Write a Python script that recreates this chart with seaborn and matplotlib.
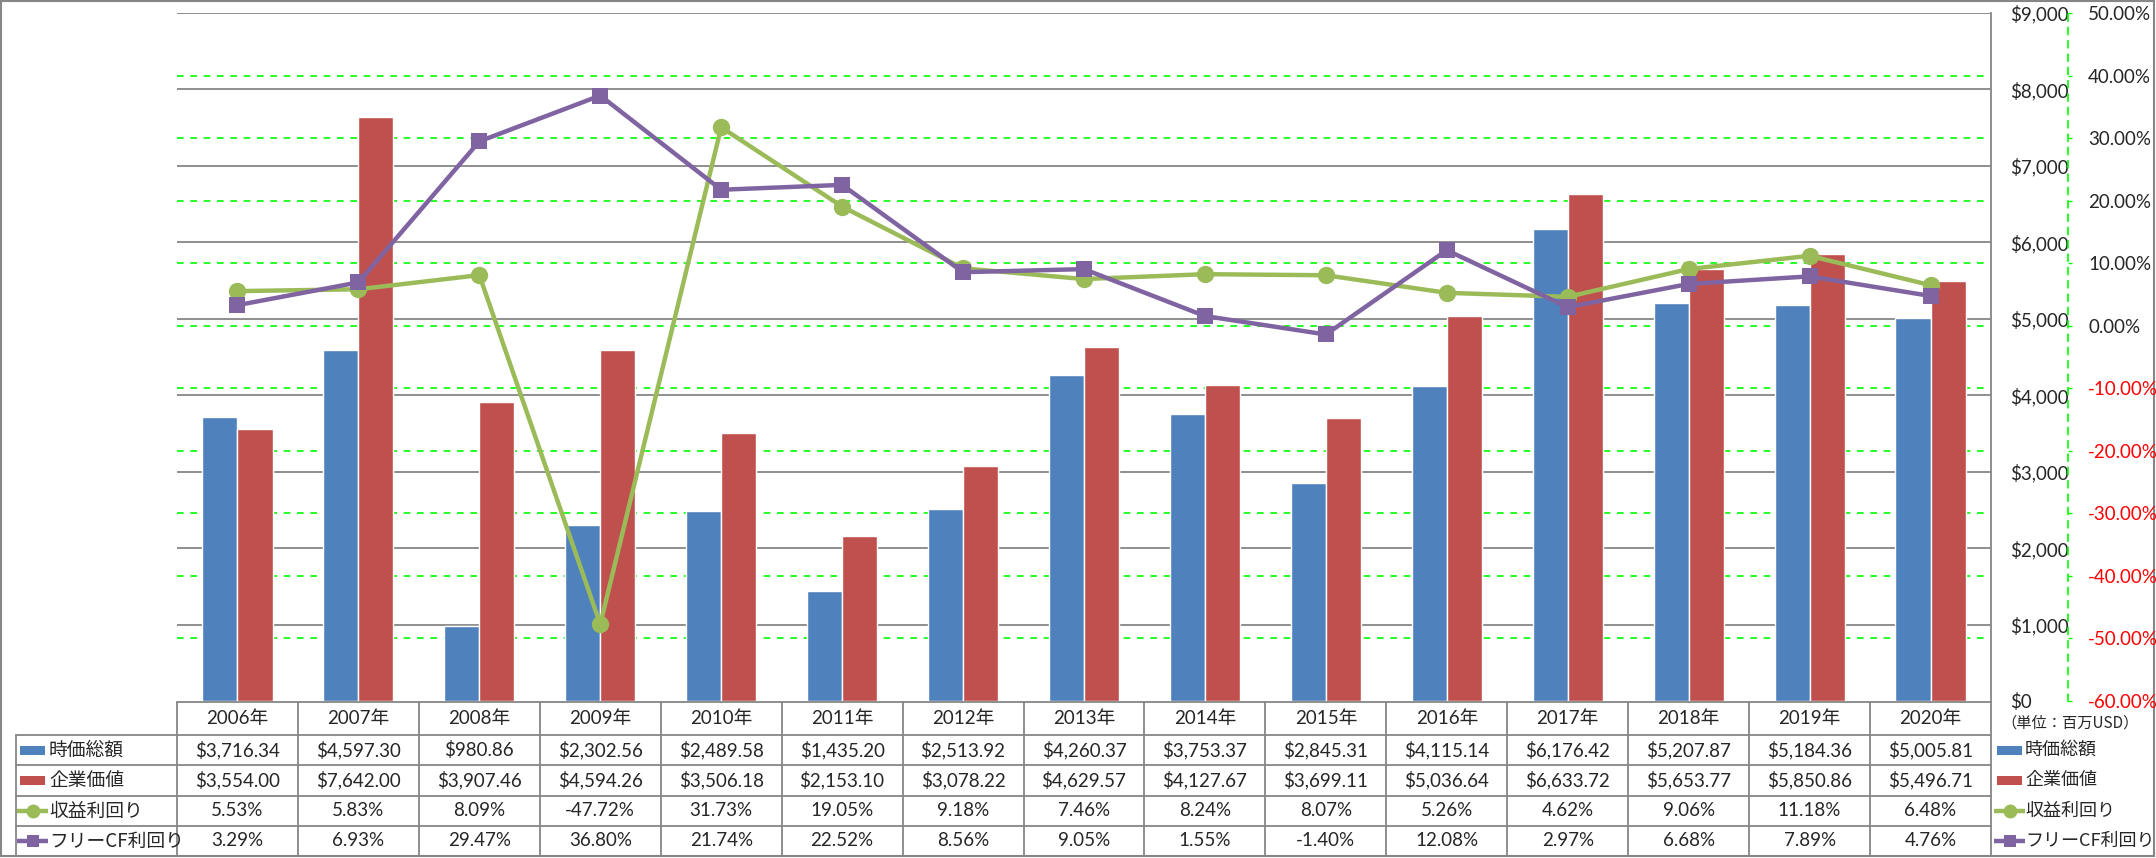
import numpy as np
import pandas as pd
import matplotlib
matplotlib.use("Agg")
import matplotlib.pyplot as plt
import seaborn as sns
from matplotlib.patches import Rectangle
from matplotlib.lines import Line2D
from matplotlib.ticker import FixedLocator, FuncFormatter

years = ["2006年", "2007年", "2008年", "2009年", "2010年", "2011年", "2012年", "2013年",
         "2014年", "2015年", "2016年", "2017年", "2018年", "2019年", "2020年"]
market_cap = [3716.34, 4597.30, 980.86, 2302.56, 2489.58, 1435.20, 2513.92, 4260.37,
              3753.37, 2845.31, 4115.14, 6176.42, 5207.87, 5184.36, 5005.81]
enterprise_value = [3554.00, 7642.00, 3907.46, 4594.26, 3506.18, 2153.10, 3078.22, 4629.57,
                    4127.67, 3699.11, 5036.64, 6633.72, 5653.77, 5850.86, 5496.71]
earnings_yield = [5.53, 5.83, 8.09, -47.72, 31.73, 19.05, 9.18, 7.46,
                  8.24, 8.07, 5.26, 4.62, 9.06, 11.18, 6.48]
fcf_yield = [3.29, 6.93, 29.47, 36.80, 21.74, 22.52, 8.56, 9.05,
             1.55, -1.40, 12.08, 2.97, 6.68, 7.89, 4.76]
series_names = ["時価総額", "企業価値", "収益利回り", "フリーCF利回り"]
usd_ticks = list(range(0, 9001, 1000))
pct_ticks = list(range(-60, 51, 10))
unit_label = "（単位：百万USD）"

BLUE, RED, GREEN, PURPLE = "#4F81BD", "#C0504D", "#9BBB59", "#8064A2"
GRAY = "#868686"
GRID_GREEN = "#00FF00"
NUM_SIZE = 13.5
JP_SIZE = 13.5

sns.set_style("white")
plt.rcParams["font.family"] = ["Lato", "Noto Sans CJK JP"]
plt.rcParams["axes.unicode_minus"] = False

W, H = 2156, 858
fig = plt.figure(figsize=(W / 100, H / 100), dpi=100)

# layout in pixels
plot_l, plot_r, plot_t, plot_b = 177, 1991, 13, 701
col_w = (plot_r - plot_l) / len(years)

# ---- table / frame layer (pixel coordinates) ----
tab = fig.add_axes([0, 0, 1, 1], zorder=-1)
tab.set_xlim(0, W)
tab.set_ylim(H, 0)
tab.axis("off")
tab.add_patch(Rectangle((1, 1), W - 3, H - 3, fill=False, edgecolor=GRAY, lw=1.5))

row_y = [702, 735, 765, 796, 826, 856]
tab.plot([plot_l, plot_r], [row_y[0], row_y[0]], color=GRAY, lw=1.3)
for y in row_y[1:]:
    tab.plot([16, plot_r], [y, y], color=GRAY, lw=1.3)
tab.plot([16, 16], [row_y[1], row_y[-1]], color=GRAY, lw=1.3)
for i in range(len(years) + 1):
    x = plot_l + i * col_w
    tab.plot([x, x], [row_y[0], row_y[-1]], color=GRAY, lw=1.3)

row_c = [(row_y[k] + row_y[k + 1]) / 2 for k in range(5)]
rows = [
    years,
    [f"${v:,.2f}" for v in market_cap],
    [f"${v:,.2f}" for v in enterprise_value],
    [f"{v:.2f}%" for v in earnings_yield],
    [f"{v:.2f}%" for v in fcf_yield],
]
for r, vals in enumerate(rows):
    for i, s in enumerate(vals):
        tab.text(plot_l + (i + 0.5) * col_w, row_c[r], s, ha="center", va="center",
                 fontsize=NUM_SIZE)


def legend_key(x0, y, kind, color):
    if kind == "bar":
        tab.add_patch(Rectangle((x0, y - 4.5), 25, 9, color=color, lw=0))
    else:
        m = "o" if kind == "circle" else "s"
        tab.add_line(Line2D([x0 - 3, x0 + 28], [y, y], color=color, lw=3.2,
                            solid_capstyle="butt"))
        tab.plot([x0 + 12.5], [y], marker=m, color=color, ms=10 if m == "o" else 9,
                 mew=0)


kinds = [("bar", BLUE), ("bar", RED), ("circle", GREEN), ("square", PURPLE)]
for k, (name, (kind, color)) in enumerate(zip(series_names, kinds)):
    y = row_c[k + 1]
    legend_key(20, y, kind, color)
    tab.text(49, y, name, ha="left", va="center", fontsize=JP_SIZE,
             family=["Noto Sans CJK JP"])
    legend_key(1997, y, kind, color)
    tab.text(2025, y, name, ha="left", va="center", fontsize=JP_SIZE - 0.5,
             family=["Noto Sans CJK JP"])
tab.text(2001, 723, unit_label, ha="left", va="center", fontsize=11,
         family=["Noto Sans CJK JP"])

# ---- main chart ----
ax = fig.add_axes([plot_l / W, 1 - plot_b / H, (plot_r - plot_l) / W, (plot_b - plot_t) / H])
ax.patch.set_visible(False)

bars = pd.DataFrame({
    "year": years * 2,
    "value": market_cap + enterprise_value,
    "series": [series_names[0]] * len(years) + [series_names[1]] * len(years),
})
sns.barplot(data=bars, x="year", y="value", hue="series", palette=[BLUE, RED],
            width=0.58, saturation=1, legend=False, ax=ax, zorder=2)
ax.set_xlim(-0.5, len(years) - 0.5)
ax.set_ylim(usd_ticks[0], usd_ticks[-1])
ax.set_xlabel("")
ax.set_ylabel("")
ax.set_xticks([])
for v in usd_ticks[1:]:
    ax.axhline(v, color=GRAY, lw=1.3, zorder=0.5)

# percent gridlines drawn under the bars, mapped onto the dollar scale
def pct_to_usd(p):
    return (p - pct_ticks[0]) / (pct_ticks[-1] - pct_ticks[0]) * usd_ticks[-1]

for p in pct_ticks[1:-1]:
    ax.axhline(pct_to_usd(p), color=GRID_GREEN, lw=1.2, ls=(0, (4, 4)), zorder=0.6)

# ---- yield lines on secondary axis ----
ax2 = ax.twinx()
pos = np.arange(len(years))
sns.lineplot(x=pos, y=earnings_yield, ax=ax2, color=GREEN, lw=3.2, marker="o",
             markersize=12.5, markeredgewidth=0, legend=False, zorder=3)
sns.lineplot(x=pos, y=fcf_yield, ax=ax2, color=PURPLE, lw=3.2, marker="s",
             markersize=11.5, markeredgewidth=0, legend=False, zorder=4)
ax2.set_ylim(pct_ticks[0], pct_ticks[-1])
ax2.set_xlim(-0.5, len(years) - 0.5)
ax2.yaxis.set_major_locator(FixedLocator(pct_ticks))
ax2.yaxis.set_major_formatter(FuncFormatter(lambda v, p: f"{v:.2f}%"))
ax2.tick_params(axis="y", length=3, width=1, color=GRID_GREEN, pad=11.5,
                labelsize=NUM_SIZE)
for side in ["left", "top", "bottom"]:
    ax2.spines[side].set_visible(False)
ax2.spines["right"].set_position(("outward", 77 * 0.72))
ax2.spines["right"].set_color(GRID_GREEN)
ax2.spines["right"].set_linestyle((0, (4, 4)))
ax2.spines["right"].set_linewidth(1.2)
for lbl, v in zip(ax2.get_yticklabels(), pct_ticks):
    if v < 0:
        lbl.set_color("#FF0000")

# primary (dollar) axis labels also sit on the right; twinx resets them, so set after
ax.yaxis.tick_right()
ax.yaxis.set_label_position("right")
ax.yaxis.set_major_locator(FixedLocator(usd_ticks))
ax.yaxis.set_major_formatter(FuncFormatter(lambda v, p: f"${v:,.0f}"))
ax.tick_params(axis="y", which="both", left=False, labelleft=False, right=True,
               labelright=True, length=0, pad=13.7, labelsize=NUM_SIZE)
for side in ["left", "top", "bottom"]:
    ax.spines[side].set_visible(False)
ax.spines["right"].set_visible(True)
ax.spines["right"].set_color(GRAY)
ax.spines["right"].set_linewidth(1.3)

fig.savefig("out.png", dpi=100)
